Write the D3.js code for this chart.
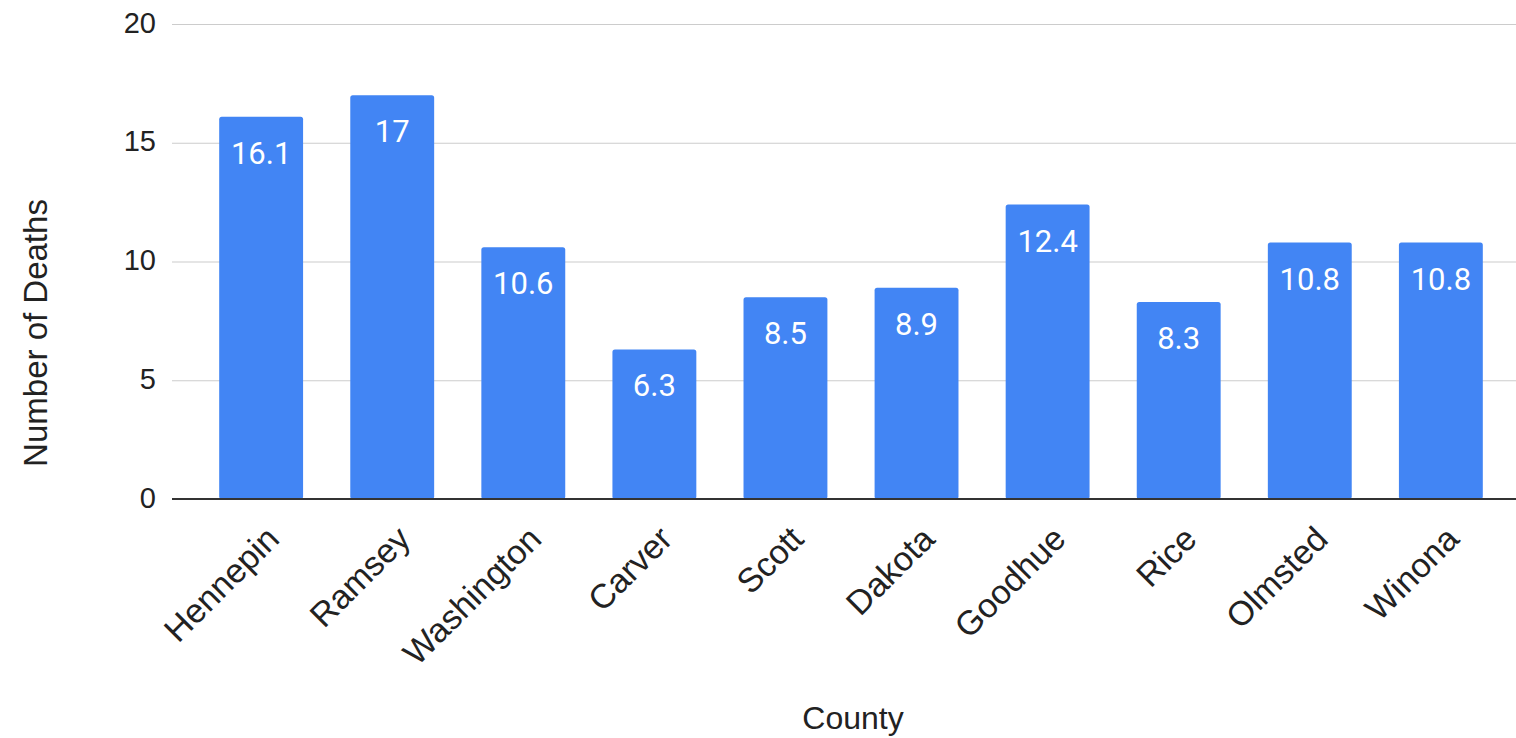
<!DOCTYPE html>
<html>
<head>
<meta charset="utf-8">
<script src="https://cdn.jsdelivr.net/npm/d3@7"></script>
<style>
  html, body { margin: 0; padding: 0; background: #fff; }
  svg { display: block; }
</style>
</head>
<body>
<svg id="chart" width="1516" height="738"></svg>
<script>
// Deaths by county
const counties = ["Hennepin", "Ramsey", "Washington", "Carver", "Scott", "Dakota", "Goodhue", "Rice", "Olmsted", "Winona"];
const deaths = [16.1, 17, 10.6, 6.3, 8.5, 8.9, 12.4, 8.3, 10.8, 10.8];
const yTicks = [0, 5, 10, 15, 20];

(function () {
const svg = d3.select("#chart");
const plotLeft = 172, plotRight = 1530, plotTop = 24, plotBottom = 499;

const x = d3.scaleBand()
  .domain(counties)
  .range([plotLeft, plotRight])
  .paddingInner(0.36)
  .paddingOuter(0.36);

const y = d3.scaleLinear().domain([0, 20]).range([plotBottom, plotTop]);

const axisFont = "'Liberation Sans', Arial, sans-serif";

// horizontal gridlines
const yAxis = d3.axisLeft(y).tickValues(yTicks).tickSize(-(plotRight - plotLeft)).tickPadding(16);
const gy = svg.append("g").attr("transform", `translate(${plotLeft},0)`).call(yAxis);
gy.select(".domain").remove();
gy.selectAll(".tick line").attr("stroke", "#cccccc").attr("stroke-width", 1.2);
gy.selectAll(".tick text")
  .attr("font-family", axisFont)
  .attr("font-size", 29)
  .attr("fill", "#222")
  .attr("dy", "0.28em");

// bars
svg.append("g").selectAll("rect")
  .data(counties)
  .join("rect")
  .attr("x", d => x(d))
  .attr("y", (d, i) => y(deaths[i]))
  .attr("width", x.bandwidth())
  .attr("height", (d, i) => y(0) - y(deaths[i]))
  .attr("rx", 2.5)
  .attr("fill", "#4285f4");

// baseline
svg.append("line")
  .attr("x1", plotLeft).attr("x2", plotRight)
  .attr("y1", y(0)).attr("y2", y(0))
  .attr("stroke", "#333").attr("stroke-width", 2);

// value labels
svg.append("g").selectAll("text")
  .data(counties)
  .join("text")
  .attr("x", d => x(d) + x.bandwidth() / 2)
  .attr("y", (d, i) => y(deaths[i]) + 47)
  .attr("text-anchor", "middle")
  .attr("font-family", "Roboto, sans-serif")
  .attr("font-size", 31)
  .attr("fill", "#ffffff")
  .text((d, i) => deaths[i]);

// category labels, rotated
const xAxis = d3.axisBottom(x).tickSize(0).tickPadding(0);
const gx = svg.append("g").attr("transform", `translate(0,${plotBottom})`).call(xAxis);
gx.select(".domain").remove();
gx.selectAll(".tick text")
  .attr("font-family", axisFont)
  .attr("font-size", 34)
  .attr("fill", "#222")
  .attr("text-anchor", "end")
  .attr("dy", 0)
  .attr("y", 0)
  .attr("transform", "translate(20,42) rotate(-45)");

// axis titles
svg.append("text")
  .attr("transform", `translate(47,333) rotate(-90)`)
  .attr("text-anchor", "middle")
  .attr("font-family", axisFont)
  .attr("font-size", 33)
  .attr("fill", "#222")
  .text("Number of Deaths");

svg.append("text")
  .attr("x", 853).attr("y", 729)
  .attr("text-anchor", "middle")
  .attr("font-family", axisFont)
  .attr("font-size", 32)
  .attr("fill", "#222")
  .text("County");
})();
</script>
</body>
</html>
